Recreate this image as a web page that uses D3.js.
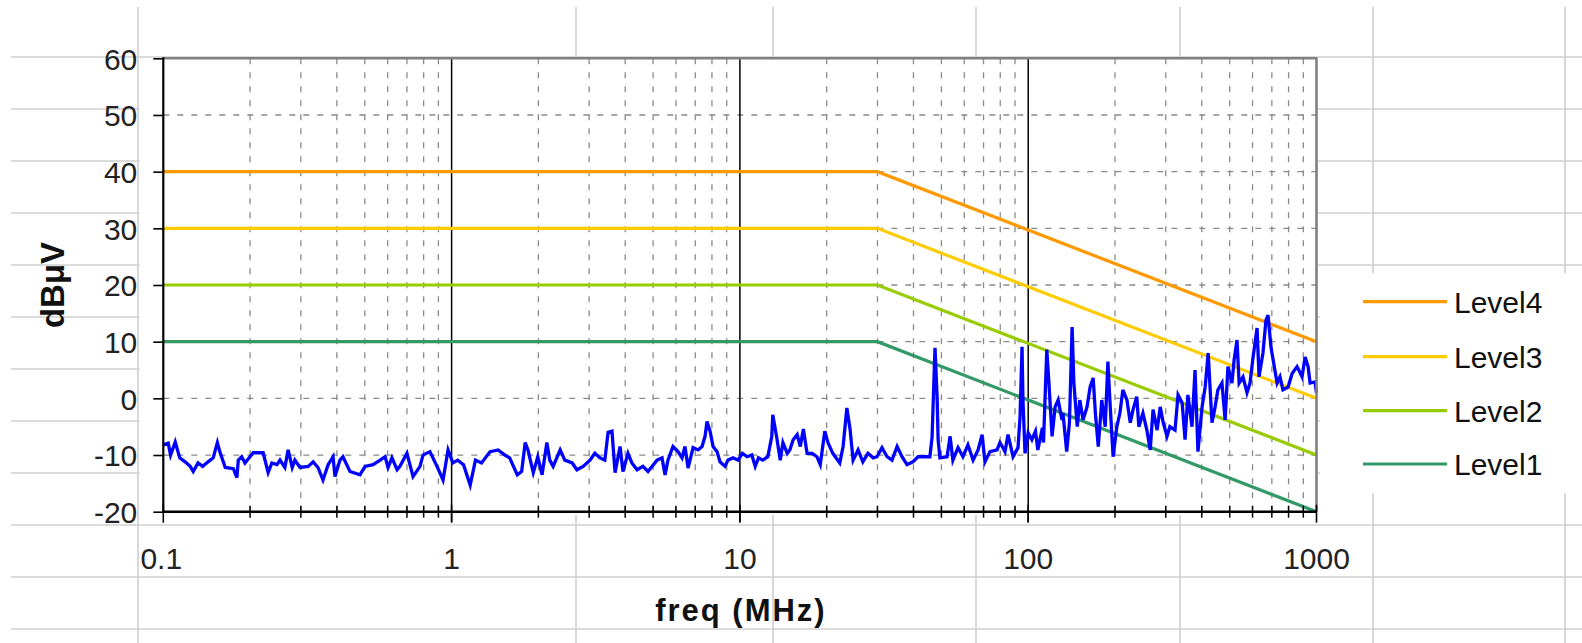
<!DOCTYPE html>
<html>
<head>
<meta charset="utf-8">
<script src="https://cdn.jsdelivr.net/npm/d3@7/dist/d3.min.js"></script>
<style>
  html, body { margin: 0; padding: 0; background: #fff; }
  svg { display: block; }
  text { font-family: "Liberation Sans", Arial, sans-serif; }
</style>
</head>
<body>
<svg id="chart" width="1582" height="643"></svg>
<script>
// ---------------- DATA ----------------
const seriesNames = ["Level4", "Level3", "Level2", "Level1"];
const seriesColors = ["#FF9900", "#FFCC00", "#99CC00", "#339966"];
const limitFreq = [0.1, 30, 1000];
const level4 = [40, 40, 10];
const level3 = [30, 30, 0];
const level2 = [20, 20, -10];
const level1 = [10, 10, -20];

const yTicks = [-20, -10, 0, 10, 20, 30, 40, 50, 60];
const yTickLabels = ["-20", "-10", "0", "10", "20", "30", "40", "50", "60"];
const xTickLabels = ["0.1", "1", "10", "100", "1000"];

// measured spectrum (MHz, dBµV)
const measFreq = [
  0.100,0.104,0.106,0.110,0.114,0.119,0.124,0.127,0.132,0.137,0.143,0.149,0.154,0.157,0.164,0.175,0.180,0.182,0.187,0.192,
  0.205,0.222,0.231,0.238,0.248,0.254,0.264,0.271,0.280,0.286,0.298,0.318,0.331,0.344,0.358,0.373,0.388,0.394,0.410,0.420,
  0.444,0.481,0.501,0.534,0.565,0.588,0.602,0.621,0.647,0.662,0.700,0.735,0.777,0.796,0.841,0.890,0.934,0.972,
  1.01,1.05,1.10,1.16,1.21,1.27,1.36,1.45,1.53,1.59,1.69,1.75,1.80,1.84,1.92,1.99,2.06,2.14,2.19,2.25,2.38,2.47,
  2.62,2.72,2.86,3.02,3.14,3.27,3.40,3.49,3.60,3.69,3.84,3.93,4.09,4.22,4.40,4.61,4.80,5.16,5.37,5.50,
  5.63,5.86,6.10,6.30,6.45,6.61,6.88,7.16,7.39,7.57,7.69,7.88,8.07,8.33,8.53,8.88,9.09,9.47,9.85,
  10.2,10.6,11.0,11.3,11.6,12.0,12.5,12.9,13.0,13.4,13.8,14.1,14.6,14.9,15.3,15.8,16.2,16.6,17.1,17.8,
  18.5,19.0,19.7,20.2,21.0,22.2,22.8,23.5,24.1,24.7,25.7,26.7,27.8,29.0,29.9,31.1,32.4,33.7,35.1,36.5,
  38.0,39.8,41.5,43.5,45.6,46.4,47.5,48.3,48.7,49.4,52.3,53.6,54.8,57.1,59.4,61.8,64.4,67.0,69.2,70.8,73.7,
  78.0,79.8,83.1,85.1,88.6,92.2,93.7,95.2,95.9,97.5,
  100,103,106,108,112,113,116,118,121,124,127,131,132,136,139,142,144,148,151,155,
  160,164,168,171,175,180,185,189,192,197,203,208,213,220,226,231,238,242,250,258,
  265,271,280,287,294,303,310,323,331,342,350,358,370,379,388,401,411,421,434,445,
  455,470,482,493,509,518,530,539,556,574,588,602,622,632,652,668,679,695,707,730,
  747,765,797,823,856,891,913,935,950,988,1000
];
const measLevel = [
  -8.2,-7.9,-10,-7.7,-10.5,-11.2,-12,-12.9,-11.4,-12,-11.2,-10.5,-7.8,-9.4,-12.2,-12.4,-14,-10.9,-10.3,-11.4,
  -9.6,-9.6,-13.1,-11.4,-11.7,-10.9,-12.2,-9.1,-12.2,-10.9,-12.2,-12,-11.2,-12.2,-14.4,-11.7,-10.3,-13.8,-10.9,-10.3,
  -12.9,-13.5,-12,-11.7,-10.9,-10.3,-12.2,-10.5,-12.6,-12,-9.7,-13.8,-12,-10,-9.4,-12,-14.4,-9.1,
  -11.4,-10.9,-11.7,-15.3,-10.9,-11.4,-9.4,-9.1,-10,-10.5,-13.5,-12.9,-7.8,-9.1,-13.1,-10.3,-13.5,-7.8,-10.9,-12,-9.1,-10.9,
  -11.4,-12.6,-12,-10.9,-9.7,-10.5,-10.9,-6,-5.8,-13.1,-8.5,-12.9,-9.7,-11.4,-12.6,-12,-12.9,-10.9,-10.5,-13.5,
  -10.9,-8.5,-9.4,-10.5,-8.5,-12.3,-8.7,-9.1,-8.5,-6.7,-4.1,-5.8,-8.5,-9.4,-11.2,-12,-10.9,-10.5,-10.9,
  -9.7,-10.3,-10,-12,-10.5,-10.9,-10.3,-6.7,-2.9,-6.7,-10.9,-7.8,-9.7,-9.1,-7.3,-6.4,-8.5,-5.4,-9.7,-9.7,
  -10.3,-11.7,-5.8,-7.8,-9.7,-11.4,-8.5,-1.7,-5.4,-10.9,-9.1,-11.2,-9.7,-10.5,-10.3,-8.7,-10.3,-10.9,-8.5,-10.3,
  -11.7,-11.2,-10.3,-10.3,-10.3,-6.9,8.9,0.3,-7.3,-10.5,-10.3,-6.7,-10.9,-8.7,-10.3,-8.2,-10.9,-9.1,-6.4,-11.2,-9.4,
  -9.1,-7.8,-9.4,-6.4,-10.3,-8.7,-3.2,9.1,-0.3,-9.7,
  -6.1,-7.3,-5.8,-9.1,-5.2,-7.8,8.6,2.7,-6.7,-1.5,-0.3,-3.8,-2.6,-9.4,-4.3,12.6,2.7,-5,-0.3,-3.8,
  -1.5,2,3.6,-2.6,-8.5,-0.3,-5,6.5,-0.3,-10.3,-5,-2.6,1.5,-0.3,-4.3,-2,0.3,-5,-2.6,-5.6,
  -9.1,-2,-5.6,-1.5,-4.3,-6.7,-5,-5.6,0.6,-0.8,-7.3,0.6,-5,5,-9.4,-1.5,2,8,-4.3,-1.5,
  1.5,2.7,-3.8,5.6,2.7,6.8,10.3,2.7,3.8,1,2.7,7.1,12.4,3.8,8,13.8,14.7,9.1,6.8,2.7,
  3.8,1.5,2,4.4,5.6,3.8,7.3,5.6,2.7,2.9,1
];

// ---------------- LAYOUT ----------------
const W = 1582, H = 643;
const plot = { left: 163.3, right: 1316.5, top: 58.3, bottom: 511.7 };
const svg = d3.select("#chart");

const x = d3.scaleLog().domain([0.1, 1000]).range([plot.left, plot.right]);
const y = d3.scaleLinear().domain([-20, 60]).range([plot.bottom, plot.top]);

// spreadsheet cell grid (background)
const sheetRows = [57, 109, 161, 213, 265, 317, 369, 421, 473, 525, 577, 629];
const sheetCols = [138, 576, 773, 976, 1180, 1373, 1565];
const sheet = svg.append("g").attr("stroke", "#cfcfcf").attr("stroke-width", 1.6);
sheet.selectAll("line.r").data(sheetRows).join("line")
  .attr("x1", 11).attr("x2", W).attr("y1", d => d).attr("y2", d => d);
sheet.selectAll("line.c").data(sheetCols).join("line")
  .attr("x1", d => d).attr("x2", d => d).attr("y1", 7).attr("y2", H);

// chart white areas covering the sheet
svg.append("rect").attr("x", 139.5).attr("y", 58).attr("width", 1318 - 139.5).attr("height", 515 - 58).attr("fill", "#fff");
svg.append("rect").attr("x", 1320).attr("y", 273).attr("width", W - 1320).attr("height", 493 - 273).attr("fill", "#fff");

// plot gridlines
const g = svg.append("g");
const majorX = [1, 10, 100];
const minorX = x.ticks().filter(f => {
  const l = Math.log10(f); return Math.abs(l - Math.round(l)) > 1e-6;
});
g.selectAll("line.minx").data(minorX).join("line")
  .attr("x1", d => x(d)).attr("x2", d => x(d))
  .attr("y1", plot.top).attr("y2", plot.bottom)
  .attr("stroke", "#8a8a8a").attr("stroke-width", 1.3).attr("stroke-dasharray", "6,8");
g.selectAll("line.hy").data(yTicks.filter(v => v > -20 && v < 60)).join("line")
  .attr("x1", plot.left).attr("x2", plot.right)
  .attr("y1", d => y(d)).attr("y2", d => y(d))
  .attr("stroke", "#8a8a8a").attr("stroke-width", 1.3).attr("stroke-dasharray", "6,8");
g.selectAll("line.majx").data(majorX).join("line")
  .attr("x1", d => x(d)).attr("x2", d => x(d))
  .attr("y1", plot.top).attr("y2", plot.bottom + 10)
  .attr("stroke", "#000").attr("stroke-width", 1.5);

// limit lines
const levels = [level4, level3, level2, level1];
const line = d3.line().x(d => x(d[0])).y(d => y(d[1]));
levels.slice().reverse().forEach((lv, i) => {
  const idx = levels.length - 1 - i;
  svg.append("path")
    .datum(limitFreq.map((f, j) => [f, lv[j]]))
    .attr("d", line).attr("fill", "none")
    .attr("stroke", seriesColors[idx]).attr("stroke-width", 3.2);
});

// measured trace
svg.append("path")
  .datum(measFreq.map((f, j) => [f, measLevel[j]]))
  .attr("d", line).attr("fill", "none")
  .attr("stroke", "#0000FF").attr("stroke-width", 3.3).attr("stroke-linejoin", "miter");

// plot frame: top/right grey, left/bottom black axes
svg.append("line").attr("x1", plot.left).attr("x2", plot.right + 1).attr("y1", plot.top).attr("y2", plot.top)
  .attr("stroke", "#808080").attr("stroke-width", 2.6);
svg.append("line").attr("x1", plot.right).attr("x2", plot.right).attr("y1", plot.top).attr("y2", plot.bottom)
  .attr("stroke", "#808080").attr("stroke-width", 2.6);

// y axis
const yAxis = svg.append("g").attr("transform", `translate(${plot.left},0)`)
  .call(d3.axisLeft(y).tickValues(yTicks).tickSize(10).tickPadding(16)
    .tickFormat((d, i) => yTickLabels[i]));
yAxis.select(".domain").attr("stroke", "#000").attr("stroke-width", 2.2)
  .attr("d", `M0,${plot.top - 1}V${plot.bottom}`);
yAxis.selectAll(".tick line").attr("stroke", "#000").attr("stroke-width", 1.6);
yAxis.selectAll(".tick text").attr("font-size", 30).attr("fill", "#222")
  .attr("font-family", "'Liberation Sans', Arial, sans-serif").attr("dy", "0.36em");

// x axis
const xAxisG = svg.append("g").attr("transform", `translate(0,${plot.bottom})`);
xAxisG.append("line").attr("x1", plot.left - 1).attr("x2", plot.right).attr("stroke", "#000").attr("stroke-width", 2.4);
xAxisG.selectAll("line.mt").data(minorX).join("line")
  .attr("x1", d => x(d)).attr("x2", d => x(d)).attr("y1", -6).attr("y2", 6)
  .attr("stroke", "#000").attr("stroke-width", 1.5);
const decades = [0.1, 1, 10, 100, 1000];
xAxisG.selectAll("line.Mt").data(decades).join("line")
  .attr("x1", d => x(d)).attr("x2", d => x(d)).attr("y1", -7).attr("y2", 11)
  .attr("stroke", "#000").attr("stroke-width", 1.6);
xAxisG.selectAll("text").data(decades).join("text")
  .attr("x", (d, i) => x(d) + (i === 0 ? -2 : 0)).attr("y", 57)
  .attr("text-anchor", "middle").attr("font-size", 30).attr("fill", "#222")
  .text((d, i) => xTickLabels[i]);

// axis titles
svg.append("text").attr("x", (plot.left + plot.right) / 2 + 1).attr("y", 621)
  .attr("text-anchor", "middle").attr("font-size", 31).attr("font-weight", "bold").attr("fill", "#111")
  .attr("letter-spacing", 2)
  .text("freq (MHz)");
svg.append("text").attr("transform", `translate(64,${(plot.top + plot.bottom) / 2}) rotate(-90)`)
  .attr("text-anchor", "middle").attr("font-size", 33).attr("font-weight", "bold").attr("fill", "#111")
  .text("dBμV");

// legend
const legY = [301.7, 356.7, 410.7, 464];
const leg = svg.append("g");
seriesNames.forEach((name, i) => {
  leg.append("line").attr("x1", 1363).attr("x2", 1447).attr("y1", legY[i]).attr("y2", legY[i])
    .attr("stroke", seriesColors[i]).attr("stroke-width", 3.2);
  leg.append("text").attr("x", 1454).attr("y", legY[i]).attr("dy", "0.36em")
    .attr("font-size", 30).attr("fill", "#111").text(name);
});
</script>
</body>
</html>
